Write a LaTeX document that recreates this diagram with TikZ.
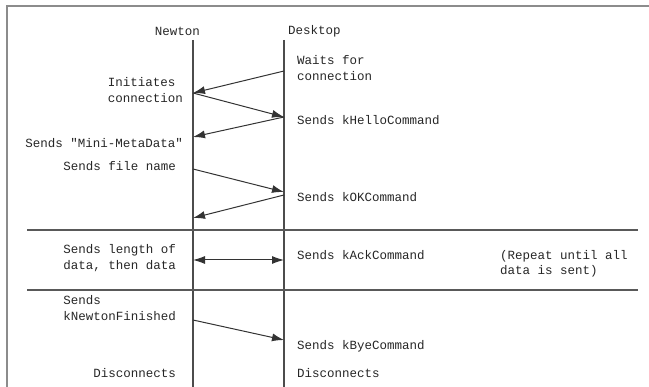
\documentclass[tikz,border=0pt]{standalone}
\usepackage{fontspec}
\setmonofont{Liberation Mono}
\usetikzlibrary{arrows.meta}

\begin{document}
\begin{tikzpicture}[x=1pt,y=-1pt,>={Latex[length=12pt,width=8pt]},
  lbl/.style={font=\ttfamily\fontsize{12.5}{15.5}\selectfont,align=left,inner sep=0pt,text=black!85},
  life/.style={line width=1.1pt,color=black!70},
  msg/.style={->,line width=1pt,color=black!80},
  sep/.style={line width=1.1pt,color=black!65}]

\useasboundingbox (0,0) rectangle (649,387);

% frame
\draw[line width=2pt,color=black!45] (649,6)--(7,6)--(7,387);

% lifelines
\node[lbl,anchor=east] (newton) at (200,31) {Newton};
\node[lbl,anchor=west] (desktop) at (288,31) {Desktop};
\coordinate (ntop) at (193,40);
\coordinate (nbot) at (193,387);
\coordinate (dtop) at (284,40);
\coordinate (dbot) at (284,387);
\draw[life] (ntop)--(nbot);
\draw[life] (dtop)--(dbot);

% separators
\coordinate (s1a) at (27,230);
\coordinate (s1b) at (638,230);
\coordinate (s2a) at (27,290);
\coordinate (s2b) at (638,290);
\draw[sep] (s1a)--(s1b);
\draw[sep] (s2a)--(s2b);

% points on lifelines
\coordinate (n1) at (193,93);
\coordinate (n2) at (193,137);
\coordinate (n3) at (193,169);
\coordinate (n4) at (193,218);
\coordinate (n5) at (193,260);
\coordinate (n6) at (193,320);
\coordinate (d1) at (284,71);
\coordinate (d2) at (284,117);
\coordinate (d3) at (284,192);
\coordinate (d4) at (284,195);
\coordinate (d5) at (284,260);
\coordinate (d6) at (284,340);

% messages
\draw[msg] (d1)--(n1);
\draw[msg] (n1)--(d2);
\draw[msg] (d2)--(n2);
\draw[msg] (n3)--(d3);
\draw[msg] (d4)--(n4);
\draw[msg,<->] (n5)--(d5);
\draw[msg] (n6)--(d6);

% Newton side
\node[lbl,anchor=east] (init) at (183,90) {Initiates\\connection};
\node[lbl,anchor=east] (meta) at (183,143) {Sends "Mini-MetaData"};
\node[lbl,anchor=east] (fname) at (176,166) {Sends file name};
\node[lbl,anchor=east] (sdata) at (176,258) {Sends length of\\data, then data};
\node[lbl,anchor=east] (nfin) at (176,308) {Sends\\kNewtonFinished};
\node[lbl,anchor=east] (ndisc) at (176,373) {Disconnects};

% Desktop side
\node[lbl,anchor=west] (wait) at (297,68) {Waits for\\connection};
\node[lbl,anchor=west] (hello) at (297,120) {Sends kHelloCommand};
\node[lbl,anchor=west] (ok) at (297,197) {Sends kOKCommand};
\node[lbl,anchor=west] (ack) at (297,255) {Sends kAckCommand};
\node[lbl,anchor=west] (repeat) at (500,264) {(Repeat until all\\data is sent)};
\node[lbl,anchor=west] (bye) at (297,346) {Sends kByeCommand};
\node[lbl,anchor=west] (ddisc) at (297,373) {Disconnects};
\end{tikzpicture}
\end{document}
